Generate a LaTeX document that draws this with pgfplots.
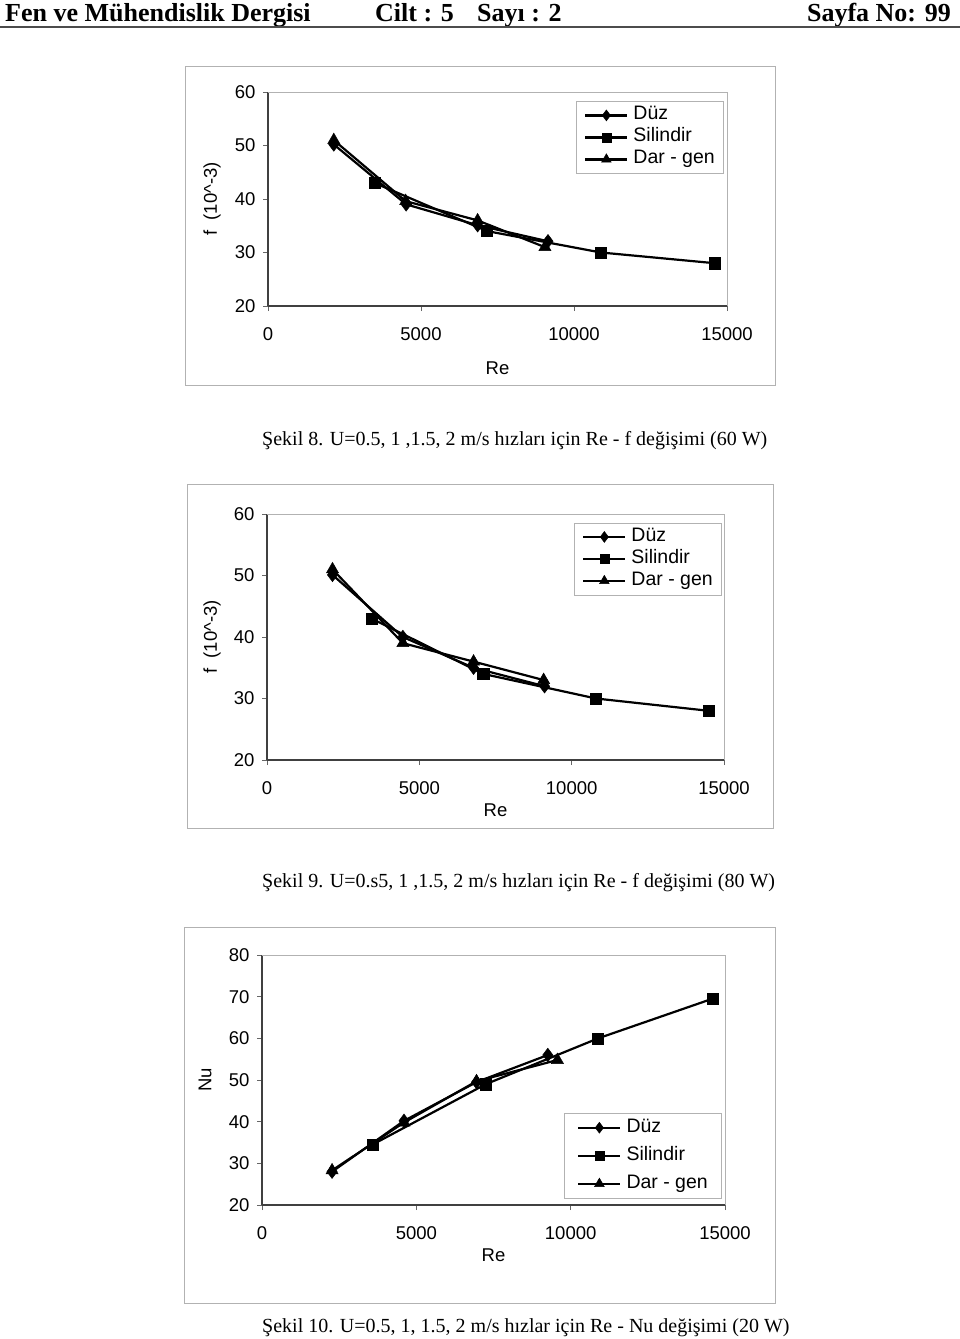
\documentclass[border=0pt]{standalone}
\usepackage{fontspec}
\setmainfont{Liberation Sans}
\newfontfamily\seriffont{Liberation Serif}
\usepackage{pgfplots}
\pgfplotsset{compat=1.18}
\newcommand\af{\fontsize{18.5}{20}\selectfont}
\newcommand\lf{\fontsize{19.5}{21}\selectfont}
\pgfplotsset{
  myaxis/.style={
    scale only axis,
    axis lines=left,
    axis line style={-, line width=1.4pt, black!75},
    xmin=0, xmax=15000,
    xtick={0,5000,10000,15000},
    scaled x ticks=false,
    /pgf/number format/assume math mode=true,
    /pgf/number format/1000 sep={},
    tick align=outside,
    major tick length=5pt,
    tick style={line width=0.9pt, black!60},
    ticklabel style={font=\af, black},
    label style={font=\af},
    xticklabel style={yshift=-13pt},
    yticklabel style={xshift=-4pt},
    legend cell align=left,
    legend style={draw=gray!60, line width=0.6pt, font=\lf, inner xsep=8pt, inner ysep=4.5pt,
      nodes={inner sep=1pt, text height=13pt, text depth=4pt},
      /tikz/every odd column/.append style={column sep=4pt}},
    legend image code/.code={\draw[mark repeat=2,mark phase=2,##1,every mark/.append style={scale=0.8}] plot coordinates {(0pt,0pt) (21pt,0pt) (42pt,0pt)};},
    every axis plot/.append style={line width=2.2pt, black},
    clip=false,
  },
  mD/.style={mark=diamond*, mark size=6.8pt, mark options={solid, fill=black, line width=0.5pt}},
  mS/.style={mark=square*, mark size=5.6pt, mark options={solid, fill=black, line width=0.5pt}},
  mT/.style={mark=triangle*, mark size=7pt, mark options={solid, fill=black, line width=0.5pt}},
}
\begin{document}
\begin{tikzpicture}
\useasboundingbox (0,0) rectangle (960pt,-1339pt);
% header
\node[anchor=base west, inner sep=0] at (5pt,-21pt) {\seriffont\bfseries\fontsize{26}{28}\selectfont Fen ve Mühendislik Dergisi};
\node[anchor=base west, inner sep=0] at (375pt,-21pt) {\seriffont\bfseries\fontsize{26}{28}\selectfont Cilt : 5};
\node[anchor=base west, inner sep=0] at (477pt,-21pt) {\seriffont\bfseries\fontsize{26}{28}\selectfont Sayı : 2};
\node[anchor=base east, inner sep=0] at (951pt,-21pt) {\seriffont\bfseries\fontsize{26}{28}\selectfont Sayfa No: 99};
\draw[line width=2pt, black!70] (0pt,-27pt) -- (960pt,-27pt);

% frames
\draw[gray!60, line width=0.8pt] (185pt,-66pt) rectangle (775pt,-385pt);
\draw[gray!60, line width=0.8pt] (187pt,-484pt) rectangle (773pt,-828pt);
\draw[gray!60, line width=0.8pt] (184pt,-927pt) rectangle (775pt,-1303pt);

% Chart 1
\begin{axis}[myaxis, at={(268pt,-306pt)}, anchor=south west,
  width=459pt, height=214pt, ymin=20, ymax=60, ytick={20,30,40,50,60},
  xlabel={Re}, ylabel={f\ \ (10\textasciicircum -3)},
  xlabel style={at={(axis description cs:0.5,-0.29)}, anchor=center},
  ylabel style={at={(axis description cs:-0.122,0.5)}, anchor=center, rotate=0},
  legend style={at={(axis cs:10065,58.3)}, anchor=north west, row sep=3pt}]
\draw[gray!60, line width=0.8pt] (rel axis cs:0,1) -- (rel axis cs:1,1) -- (rel axis cs:1,0);
\addplot[mD] coordinates {(2150,50.2) (4515,39.0) (6850,35.1) (9150,32.1)};
\addplot[mS] coordinates {(3480,43.0) (7160,34.0) (10880,30.0) (14600,28.0)};
\addplot[mT] coordinates {(2150,51.0) (4500,39.6) (6850,36.0) (9050,31.0)};
\legend{Düz, Silindir, Dar - gen}
\end{axis}
\node[anchor=base west, inner sep=0] at (262pt,-445pt) {\seriffont\fontsize{20}{22}\selectfont Şekil 8. U=0.5, 1 ,1.5, 2 m/s hızları için Re - f değişimi (60 W)};

% Chart 2
\begin{axis}[myaxis, at={(267pt,-760pt)}, anchor=south west,
  width=457pt, height=246pt, ymin=20, ymax=60, ytick={20,30,40,50,60},
  xlabel={Re}, ylabel={f\ \ (10\textasciicircum -3)},
  xlabel style={at={(axis description cs:0.5,-0.203)}, anchor=center},
  ylabel style={at={(axis description cs:-0.120,0.5)}, anchor=center, rotate=0},
  legend style={at={(axis cs:10075,58.6)}, anchor=north west, row sep=3pt}]
\draw[gray!60, line width=0.8pt] (rel axis cs:0,1) -- (rel axis cs:1,1) -- (rel axis cs:1,0);
\addplot[mD] coordinates {(2150,50.1) (4460,40.0) (6780,35.0) (9110,32.0)};
\addplot[mS] coordinates {(3430,43.0) (7100,34.0) (10800,30.0) (14500,28.0)};
\addplot[mT] coordinates {(2150,51.0) (4460,39.0) (6780,36.0) (9080,33.0)};
\legend{Düz, Silindir, Dar - gen}
\end{axis}
\node[anchor=base west, inner sep=0] at (262pt,-887pt) {\seriffont\fontsize{20}{22}\selectfont Şekil 9. U=0.s5, 1 ,1.5, 2 m/s hızları için Re - f değişimi (80 W)};

% Chart 3
\begin{axis}[myaxis, at={(262pt,-1205pt)}, anchor=south west,
  width=463pt, height=250pt, ymin=20, ymax=80, ytick={20,30,40,50,60,70,80},
  xlabel={Re}, ylabel={Nu},
  xlabel style={at={(axis description cs:0.5,-0.2)}, anchor=center},
  ylabel style={at={(axis description cs:-0.123,0.5)}, anchor=center, rotate=0},
  legend style={at={(axis cs:9784,42.1)}, anchor=north west, row sep=9pt, inner xsep=13pt, inner ysep=5pt}]
\draw[gray!60, line width=0.8pt] (rel axis cs:0,1) -- (rel axis cs:1,1) -- (rel axis cs:1,0);
\addplot[mD] coordinates {(2270,28.0) (4600,40.2) (6950,49.5) (9260,56.0)};
\addplot[mS] coordinates {(3580,34.5) (7250,49.0) (10890,60.0) (14590,69.5)};
\addplot[mT] coordinates {(2270,28.3) (4600,39.8) (6950,49.7) (9570,54.8)};
\legend{Düz, Silindir, Dar - gen}
\end{axis}
\node[anchor=base west, inner sep=0] at (262pt,-1332pt) {\seriffont\fontsize{20}{22}\selectfont Şekil 10. U=0.5, 1, 1.5, 2 m/s hızlar için Re - Nu değişimi (20 W)};
\end{tikzpicture}
\end{document}
